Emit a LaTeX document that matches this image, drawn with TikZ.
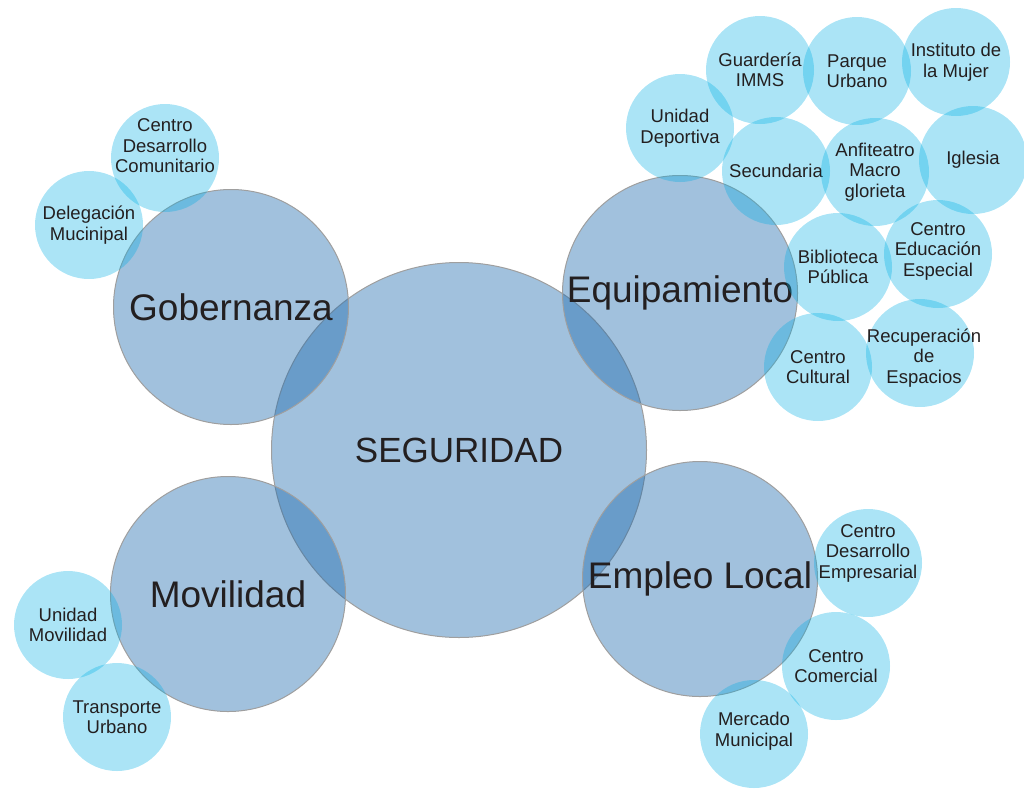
\documentclass[tikz,border=0pt]{standalone}
\usepackage{fontspec}
\setmainfont{Liberation Sans}
\definecolor{hubblue}{RGB}{20,100,170}
\definecolor{leafcyan}{RGB}{0,174,228}
\definecolor{txtdark}{RGB}{35,31,32}

\begin{document}
\begin{tikzpicture}[x=1pt,y=-1pt,
  hub/.style={circle,draw=gray!75,line width=1pt,fill=hubblue,fill opacity=0.4,
    text opacity=1,text=txtdark,inner sep=0pt,minimum size=235pt,
    font=\fontsize{37}{40}\selectfont},
  leaf/.style={circle,fill=leafcyan,fill opacity=0.33,inner sep=0pt,minimum size=108pt},
  lbl/.style={align=center,text=txtdark,inner sep=0pt,font=\fontsize{18.5}{20.5}\selectfont}]
  \useasboundingbox (0,0) rectangle (1024,790);
  % centre and themes
  \node[hub,minimum size=375pt,font=\fontsize{35}{40}\selectfont] (seg) at (459,450) {SEGURIDAD};
  \node[hub] (gob) at (231,307) {Gobernanza};
  \node[hub] (equ) at (680,293) {Equipamiento};
  \node[hub] (mov) at (228,594) {Movilidad};
  \node[hub] (emp) at (700,579) {Empleo Local};
  % Gobernanza
  \node[leaf,label={[lbl,yshift=12pt]center:Centro\\Desarrollo\\Comunitario}] (cdc) at (165,158) {};
  \node[leaf,label={[lbl]center:Delegación\\Mucinipal}] (del) at (89,225) {};
  % Equipamiento
  \node[leaf,label={[lbl]center:Guardería\\IMMS}] (gua) at (760,70) {};
  \node[leaf,label={[lbl]center:Parque\\Urbano}] (par) at (857,71) {};
  \node[leaf,label={[lbl]center:Instituto de\\la Mujer}] (ins) at (956,62) {};
  \node[leaf,label={[lbl]center:Unidad\\Deportiva}] (ude) at (680,128) {};
  \node[leaf,label={[lbl]center:Secundaria}] (sec) at (776,171) {};
  \node[leaf,label={[lbl]center:Anfiteatro\\Macro\\glorieta}] (anf) at (875,172) {};
  \node[leaf,label={[lbl]center:Iglesia}] (igl) at (973,160) {};
  \node[leaf,label={[lbl]center:Biblioteca\\Pública}] (bib) at (838,267) {};
  \node[leaf,label={[lbl,yshift=3pt]center:Centro\\Educación\\Especial}] (cee) at (938,254) {};
  \node[leaf,label={[lbl]center:Centro\\Cultural}] (ccu) at (818,367) {};
  \node[leaf,label={[lbl,xshift=4pt,yshift=-5pt]center:Recuperación\\de\\Espacios}] (rec) at (920,353) {};
  % Empleo Local
  \node[leaf,label={[lbl,yshift=10pt]center:Centro\\Desarrollo\\Empresarial}] (cde) at (868,563) {};
  \node[leaf,label={[lbl]center:Centro\\Comercial}] (cco) at (836,666) {};
  \node[leaf,label={[lbl,yshift=3pt]center:Mercado\\Municipal}] (mer) at (754,734) {};
  % Movilidad
  \node[leaf,label={[lbl]center:Unidad\\Movilidad}] (umo) at (68,625) {};
  \node[leaf,label={[lbl]center:Transporte\\Urbano}] (tra) at (117,717) {};
\end{tikzpicture}
\end{document}
